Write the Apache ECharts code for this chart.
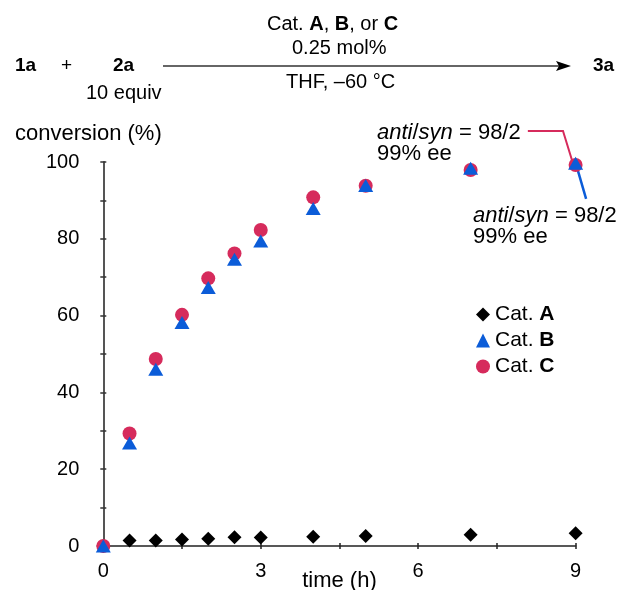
<!DOCTYPE html>
<html>
<head>
<meta charset="utf-8">
<script src="https://cdn.jsdelivr.net/npm/echarts@6/dist/echarts.min.js"></script>
<style>
html,body{margin:0;padding:0;background:#fff;}
#chart{width:621px;height:590px;}
</style>
</head>
<body>
<div id="chart"></div>
<script>
// ---- data ----
var times = [0, 0.5, 1, 1.5, 2, 2.5, 3, 4, 5, 7, 9];
var catA = [0, 1.4, 1.4, 1.7, 1.9, 2.3, 2.2, 2.4, 2.6, 2.9, 3.3];
var catB = [0, 26.8, 46.0, 58.2, 67.3, 74.7, 79.4, 87.9, 93.9, 98.4, 99.7];
var catC = [0, 29.3, 48.7, 60.2, 69.7, 76.2, 82.3, 90.8, 93.8, 97.9, 99.2];
var seriesNames = ['Cat. A', 'Cat. B', 'Cat. C'];
var xTicks = [0, 3, 6, 9];
var yTicks = [0, 20, 40, 60, 80, 100];
// leader lines of the annotations (data units)
var leaderC = [[8.09, 108.1], [8.76, 108.1], [8.93, 100.5]];
var leaderB = [[9.03, 98.4], [9.2, 90.4]];

var FONT = "'Liberation Sans', Arial, Helvetica, sans-serif";
var RED = '#D62B5C', BLUE = '#0B5CD8';

function pairs(xs, ys) { return xs.map(function (x, i) { return [x, ys[i]]; }); }

var chart = echarts.init(document.getElementById('chart'), null, {renderer: 'canvas'});

var baseGraphics = [
  // reaction scheme
  {type: 'text', left: 15, top: 56, style: {text: '1a', font: 'bold 19px ' + FONT, fill: '#000'}},
  {type: 'text', left: 61, top: 56, style: {text: '+', font: '19px ' + FONT, fill: '#000'}},
  {type: 'text', left: 113, top: 56, style: {text: '2a', font: 'bold 19px ' + FONT, fill: '#000'}},
  {type: 'text', left: 86, top: 83, style: {text: '10 equiv', font: '20px ' + FONT, fill: '#000'}},
  {type: 'line', shape: {x1: 163, y1: 66, x2: 560, y2: 66}, style: {stroke: '#333', lineWidth: 1.5}},
  {type: 'polygon', shape: {points: [[556, 61], [571, 66], [556, 71], [559, 66]]}, style: {fill: '#000'}},
  {type: 'text', left: 593, top: 56, style: {text: '3a', font: 'bold 19px ' + FONT, fill: '#000'}},
  {type: 'text', left: 267, top: 14, style: {text: 'Cat. {b|A}, {b|B}, or {b|C}', font: '20px ' + FONT, fill: '#000',
    rich: {b: {fontWeight: 'bold', fontSize: 20, fontFamily: FONT}}}},
  {type: 'text', left: 292, top: 38, style: {text: '0.25 mol%', font: '20px ' + FONT, fill: '#000'}},
  {type: 'text', left: 286, top: 72, style: {text: 'THF, \u201360 \u00B0C', font: '20px ' + FONT, fill: '#000'}},
  // y axis name
  {type: 'text', left: 15, top: 123, style: {text: 'conversion (%)', font: '22px ' + FONT, fill: '#000'}},
  // annotations
  {type: 'text', left: 377, top: 122, style: {text: '{i|anti}/{i|syn} = 98/2', font: '22px ' + FONT, fill: '#000',
    rich: {i: {fontStyle: 'italic', fontSize: 22, fontFamily: FONT}}}},
  {type: 'text', left: 377, top: 143, style: {text: '99% ee', font: '22px ' + FONT, fill: '#000'}},
  {type: 'text', left: 473, top: 205, style: {text: '{i|anti}/{i|syn} = 98/2', font: '22px ' + FONT, fill: '#000',
    rich: {i: {fontStyle: 'italic', fontSize: 22, fontFamily: FONT}}}},
  {type: 'text', left: 473, top: 226, style: {text: '99% ee', font: '22px ' + FONT, fill: '#000'}}
];

var option = {
  backgroundColor: '#fff',
  animation: false,
  textStyle: {fontFamily: FONT, color: '#000'},
  grid: {left: 103.3, right: 45.4, top: 162, bottom: 44, containLabel: false, outerBoundsMode: 'none'},
  xAxis: [{
    type: 'value', min: xTicks[0], max: xTicks[xTicks.length - 1], interval: 3,
    name: 'time (h)', nameLocation: 'middle', nameGap: 24, nameMoveOverlap: false,
    nameTextStyle: {fontSize: 22, fontFamily: FONT, color: '#000'},
    axisLine: {show: true, lineStyle: {color: '#222', width: 1.5}},
    axisTick: {show: true, length: 3, lineStyle: {color: '#222', width: 1.5}},
    minorTick: {show: true, splitNumber: 2, length: 3, lineStyle: {color: '#222', width: 1.5}},
    axisLabel: {fontSize: 20, fontFamily: FONT, color: '#000', margin: 15},
    splitLine: {show: false}
  }, {
    type: 'value', min: 0, max: 9, interval: 3, position: 'bottom',
    axisLine: {show: false},
    axisTick: {show: true, inside: true, length: 3, lineStyle: {color: '#222', width: 1.5}},
    minorTick: {show: true, splitNumber: 2, length: 3, lineStyle: {color: '#222', width: 1.5}},
    axisLabel: {show: false}, splitLine: {show: false}
  }],
  yAxis: [{
    type: 'value', min: yTicks[0], max: yTicks[yTicks.length - 1], interval: 20,
    axisLine: {show: true, lineStyle: {color: '#555', width: 2}},
    axisTick: {show: true, length: 3, lineStyle: {color: '#333', width: 1.5}},
    minorTick: {show: true, splitNumber: 2, length: 3, lineStyle: {color: '#333', width: 1.5}},
    axisLabel: {fontSize: 20, fontFamily: FONT, color: '#000', margin: 24},
    splitLine: {show: false}
  }, {
    type: 'value', min: 0, max: 100, interval: 20, position: 'left',
    axisLine: {show: false},
    axisTick: {show: true, inside: true, length: 3, lineStyle: {color: '#333', width: 1.5}},
    minorTick: {show: true, splitNumber: 2, length: 3, lineStyle: {color: '#333', width: 1.5}},
    axisLabel: {show: false}, splitLine: {show: false}
  }],
  legend: {
    data: seriesNames,
    orient: 'vertical',
    left: 471, top: 299,
    itemWidth: 14, itemHeight: 14, itemGap: 5,
    formatter: function (n) { return 'Cat. {b|' + n.replace('Cat. ', '') + '}'; },
    textStyle: {fontSize: 21, fontFamily: FONT, color: '#000', lineHeight: 20,
      rich: {b: {fontSize: 21, fontWeight: 'bold', fontFamily: FONT, color: '#000'}}},
    selectedMode: false
  },
  series: [{
    name: seriesNames[0], type: 'scatter', symbol: 'diamond', symbolSize: 14,
    itemStyle: {color: '#000', opacity: 1}, clip: false, z: 3,
    data: pairs(times, catA)
  }, {
    name: seriesNames[2], type: 'scatter', symbol: 'circle', symbolSize: 14,
    itemStyle: {color: RED, opacity: 1}, clip: false, z: 4,
    data: pairs(times, catC)
  }, {
    name: seriesNames[1], type: 'scatter', symbol: 'triangle', symbolSize: [15, 13],
    itemStyle: {color: BLUE, opacity: 1}, clip: false, z: 5,
    data: pairs(times, catB)
  }],
  graphic: baseGraphics
};
chart.setOption(option);

// leader lines, positioned through the chart's own coordinate system
function toPx(p) { return chart.convertToPixel({xAxisIndex: 0, yAxisIndex: 0}, p); }
chart.setOption({
  graphic: baseGraphics.concat([
    {type: 'polyline', z: 1, shape: {points: leaderC.map(toPx)}, style: {stroke: RED, lineWidth: 2, fill: null}},
    {type: 'polyline', z: 1, shape: {points: leaderB.map(toPx)}, style: {stroke: BLUE, lineWidth: 2.5, fill: null}}
  ])
}, {replaceMerge: ['graphic']});
</script>
</body>
</html>
